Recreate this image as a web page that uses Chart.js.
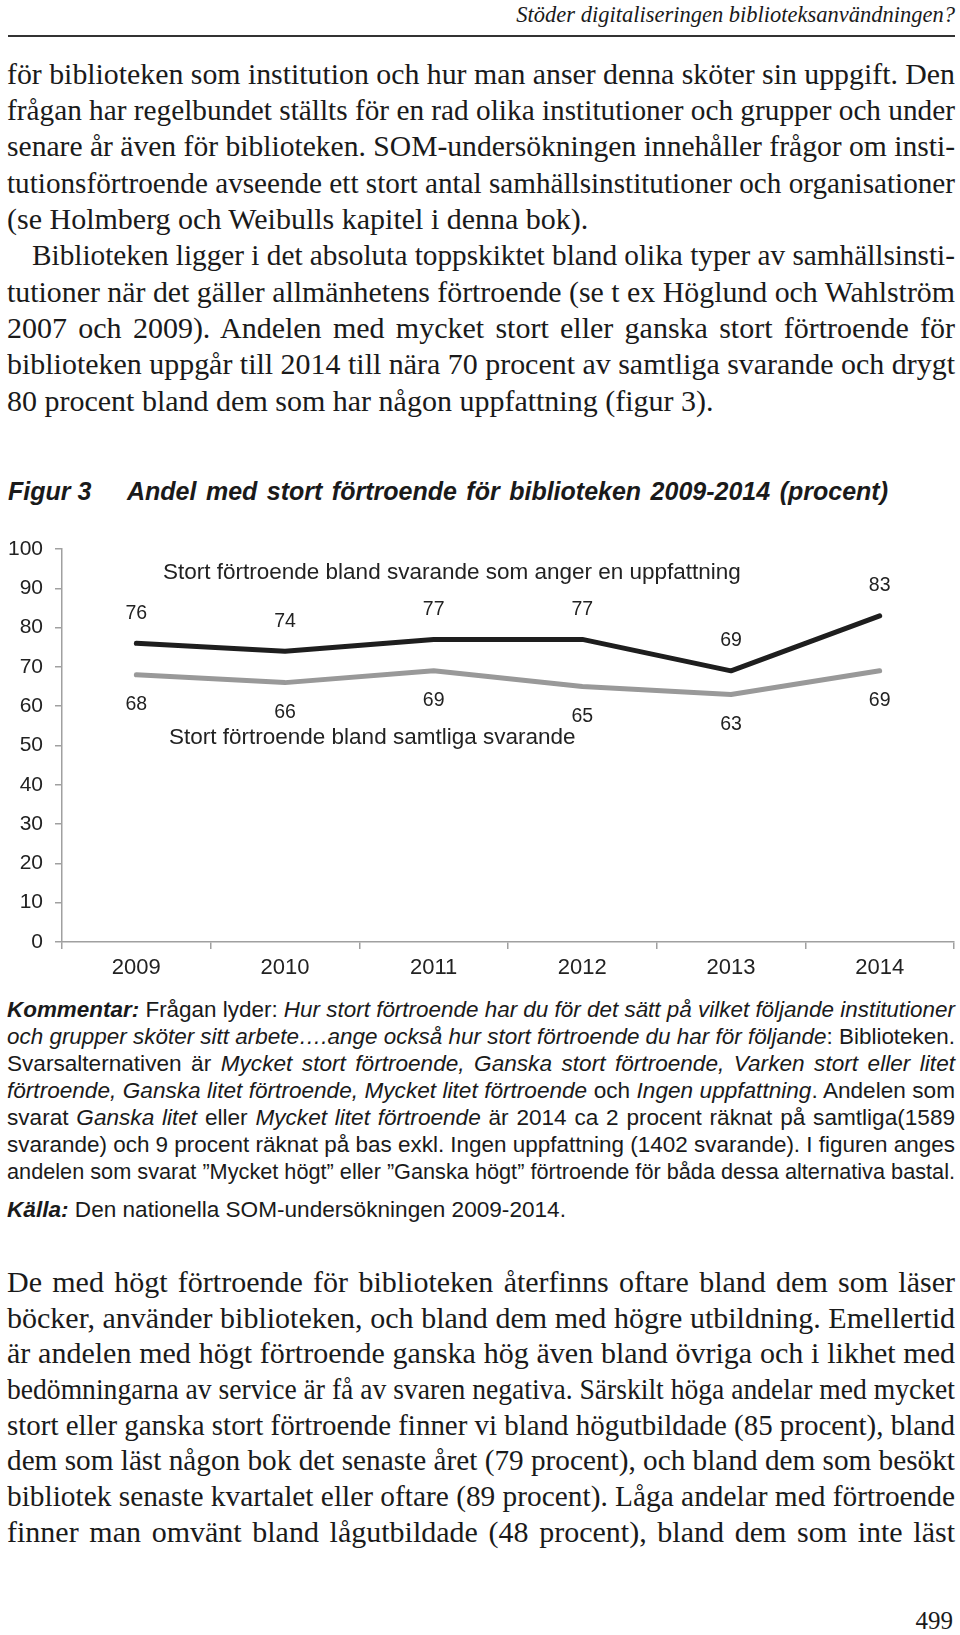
<!DOCTYPE html>
<html><head><meta charset="utf-8">
<script src="https://cdn.jsdelivr.net/npm/chart.js@4.4.1/dist/chart.umd.min.js"></script>
<style>
html,body{margin:0;padding:0;background:#fff;}
body{width:960px;height:1635px;position:relative;overflow:hidden;color:#1a1a1a;}
.abs{position:absolute;white-space:nowrap;}
.serif{font-family:"Liberation Serif","Times New Roman",serif;}
.sans{font-family:"Liberation Sans",Arial,sans-serif;}
.body{font-size:30px;line-height:36px;}
.cap{font-size:22.6px;line-height:27px;}
.ln{display:inline-block;transform-origin:0 0;white-space:nowrap;}
#rule{position:absolute;left:8px;top:35px;width:947px;height:2px;background:#333;}
#chartBox{position:absolute;left:0;top:500px;width:960px;height:500px;}
</style></head><body>
<div class="abs serif" style="right:5px;top:2px;font-size:22.5px;line-height:26px;font-style:italic;">Stöder digitaliseringen biblioteksanvändningen?</div>
<div id="rule"></div>
<div id="textLayer"></div>
<div class="abs sans" style="left:8px;top:477px;font-size:25px;line-height:28px;font-weight:bold;font-style:italic;">Figur 3</div>
<div class="abs sans" style="left:127px;top:477px;font-size:25px;line-height:28px;font-weight:bold;font-style:italic;"><span class="ln" data-w="761">Andel med stort förtroende för biblioteken 2009-2014 (procent)</span></div>
<div id="chartBox"><canvas id="c" width="960" height="500"></canvas></div>
<div class="abs serif" style="right:7px;top:1606px;font-size:25px;line-height:30px;">499</div>
<script>
// ---- data ----
const years = ['2009','2010','2011','2012','2013','2014'];
const svarandeMedUppfattning = [76, 74, 77, 77, 69, 83];
const samtligaSvarande = [68, 66, 69, 65, 63, 69];
const yMin = 0, yMax = 100, yStep = 10;
const seriesNames = ['Stort förtroende bland svarande som anger en uppfattning', 'Stort förtroende bland samtliga svarande'];

// ---- text ----
const topLines = [
 ['för biblioteken som institution och hur man anser denna sköter sin uppgift. Den', 1],
 ['frågan har regelbundet ställts för en rad olika institutioner och grupper och under', 1],
 ['senare år även för biblioteken. SOM-undersökningen innehåller frågor om insti-', 1],
 ['tutionsförtroende avseende ett stort antal samhällsinstitutioner och organisationer', 1],
 ['(se Holmberg och Weibulls kapitel i denna bok).', 0],
 ['Biblioteken ligger i det absoluta toppskiktet bland olika typer av samhällsinsti-', 2],
 ['tutioner när det gäller allmänhetens förtroende (se t ex Höglund och Wahlström', 1],
 ['2007 och 2009). Andelen med mycket stort eller ganska stort förtroende för', 1],
 ['biblioteken uppgår till 2014 till nära 70 procent av samtliga svarande och drygt', 1],
 ['80 procent bland dem som har någon uppfattning (figur 3).', 0]
];
const capLines = [
 ['<b><i>Kommentar:</i></b> Frågan lyder: <i>Hur stort förtroende har du för det sätt på vilket följande institutioner</i>', 1],
 ['<i>och grupper sköter sitt arbete….ange också hur stort förtroende du har för följande</i>: Biblioteken.', 1],
 ['Svarsalternativen är <i>Mycket stort förtroende, Ganska stort förtroende, Varken stort eller litet</i>', 1],
 ['<i>förtroende, Ganska litet förtroende, Mycket litet förtroende</i> och <i>Ingen uppfattning</i>. Andelen som', 1],
 ['svarat <i>Ganska litet</i> eller <i>Mycket litet förtroende</i> är 2014 ca 2 procent räknat på samtliga(1589', 1],
 ['svarande) och 9 procent räknat på bas exkl. Ingen uppfattning (1402 svarande). I figuren anges', 1],
 ['andelen som svarat ”Mycket högt” eller ”Ganska högt” förtroende för båda dessa alternativa bastal.', 1]
];
const kallaLine = '<b><i>Källa:</i></b> Den nationella SOM-undersökningen 2009-2014.';
const bottomLines = [
 'De med högt förtroende för biblioteken återfinns oftare bland dem som läser',
 'böcker, använder biblioteken, och bland dem med högre utbildning. Emellertid',
 'är andelen med högt förtroende ganska hög även bland övriga och i likhet med',
 'bedömningarna av service är få av svaren negativa. Särskilt höga andelar med mycket',
 'stort eller ganska stort förtroende finner vi bland högutbildade (85 procent), bland',
 'dem som läst någon bok det senaste året (79 procent), och bland dem som besökt',
 'bibliotek senaste kvartalet eller oftare (89 procent). Låga andelar med förtroende',
 'finner man omvänt bland lågutbildade (48 procent), bland dem som inte läst'
];

const layer = document.getElementById('textLayer');
function addLine(html, cls, left, top, width){
  const d = document.createElement('div');
  d.className = 'abs ' + cls;
  d.style.left = left + 'px'; d.style.top = top + 'px';
  const s = document.createElement('span');
  s.className = 'ln'; s.innerHTML = html;
  if (width) s.dataset.w = width;
  d.appendChild(s); layer.appendChild(d);
}
const L = 7, R = 955;
topLines.forEach(([t, j], i) => {
  const left = j === 2 ? L + 25 : L;
  addLine(t, 'serif body', left, 77 - 21.2 + 36.3 * i, j ? R - left : 0);
});
bottomLines.forEach((t, i) => addLine(t, 'serif body', L, 1285 - 21.2 + 35.7 * i, R - L));
capLines.forEach(([t, j], i) => addLine(t, 'sans cap', L, 995.8 + 27 * i, R - L));
addLine(kallaLine, 'sans cap', L, 1195.8, 0);

function fitAll(){
  document.querySelectorAll('.ln').forEach(s => {
    const target = parseFloat(s.dataset.w || '0');
    if (!target) return;
    s.style.wordSpacing = '0px'; s.style.transform = '';
    const w = s.getBoundingClientRect().width;
    if (w > target) {
      s.style.transform = 'scaleX(' + (target / w) + ')';
    } else {
      const spaces = (s.textContent.match(/ /g) || []).length;
      if (spaces) s.style.wordSpacing = ((target - w) / spaces) + 'px';
    }
  });
}
fitAll();

// ---- chart ----
const valueLabels = {
  id: 'valueLabels',
  afterDatasetsDraw(chart) {
    const ctx = chart.ctx; ctx.save();
    ctx.font = '19.5px "Liberation Sans", Arial, sans-serif';
    ctx.fillStyle = '#222'; ctx.textAlign = 'center'; ctx.textBaseline = 'middle';
    chart.data.datasets.forEach((ds, i) => {
      chart.getDatasetMeta(i).data.forEach((pt, j) => {
        ctx.fillText(String(ds.data[j]), pt.x, pt.y + ds.labelOffset);
      });
    });
    ctx.restore();
  }
};
const seriesTitles = {
  id: 'seriesTitles',
  afterDatasetsDraw(chart) {
    const ctx = chart.ctx, a = chart.chartArea; ctx.save();
    ctx.font = '22.5px "Liberation Sans", Arial, sans-serif';
    ctx.fillStyle = '#222'; ctx.textAlign = 'left'; ctx.textBaseline = 'middle';
    ctx.fillText(seriesNames[0], a.left + 101, a.top + 24);
    ctx.fillText(seriesNames[1], a.left + 107, a.top + 189);
    ctx.restore();
  }
};
new Chart(document.getElementById('c'), {
  type: 'line',
  data: {
    labels: years,
    datasets: [
      {label: seriesNames[0], data: svarandeMedUppfattning, borderColor: '#1e1e1e', borderWidth: 5,
       pointRadius: 0, tension: 0, borderCapStyle: 'round', borderJoinStyle: 'round', labelOffset: -30},
      {label: seriesNames[1], data: samtligaSvarande, borderColor: '#999999', borderWidth: 5,
       pointRadius: 0, tension: 0, borderCapStyle: 'round', borderJoinStyle: 'round', labelOffset: 30}
    ]
  },
  options: {
    responsive: false, animation: false, devicePixelRatio: 1,
    layout: {padding: {top: 49, right: 6, left: 0, bottom: 0}},
    plugins: {legend: {display: false}, tooltip: {enabled: false}},
    scales: {
      x: {
        offset: true,
        grid: {offset: true, drawOnChartArea: false, tickLength: 7, color: '#a0a0a0', lineWidth: 1.5},
        border: {color: '#a0a0a0', width: 1.5},
        ticks: {font: {family: '"Liberation Sans", Arial, sans-serif', size: 22}, color: '#222', padding: 6, maxRotation: 0},
        afterFit(s) { s.height = 58; }
      },
      y: {
        min: yMin, max: yMax,
        grid: {drawOnChartArea: false, tickLength: 7, color: '#a0a0a0', lineWidth: 1.5},
        border: {color: '#a0a0a0', width: 1.5},
        ticks: {stepSize: yStep, font: {family: '"Liberation Sans", Arial, sans-serif', size: 21}, color: '#222', padding: 12},
        afterFit(s) { s.width = 62; }
      }
    }
  },
  plugins: [valueLabels, seriesTitles]
});
</script>
</body></html>
